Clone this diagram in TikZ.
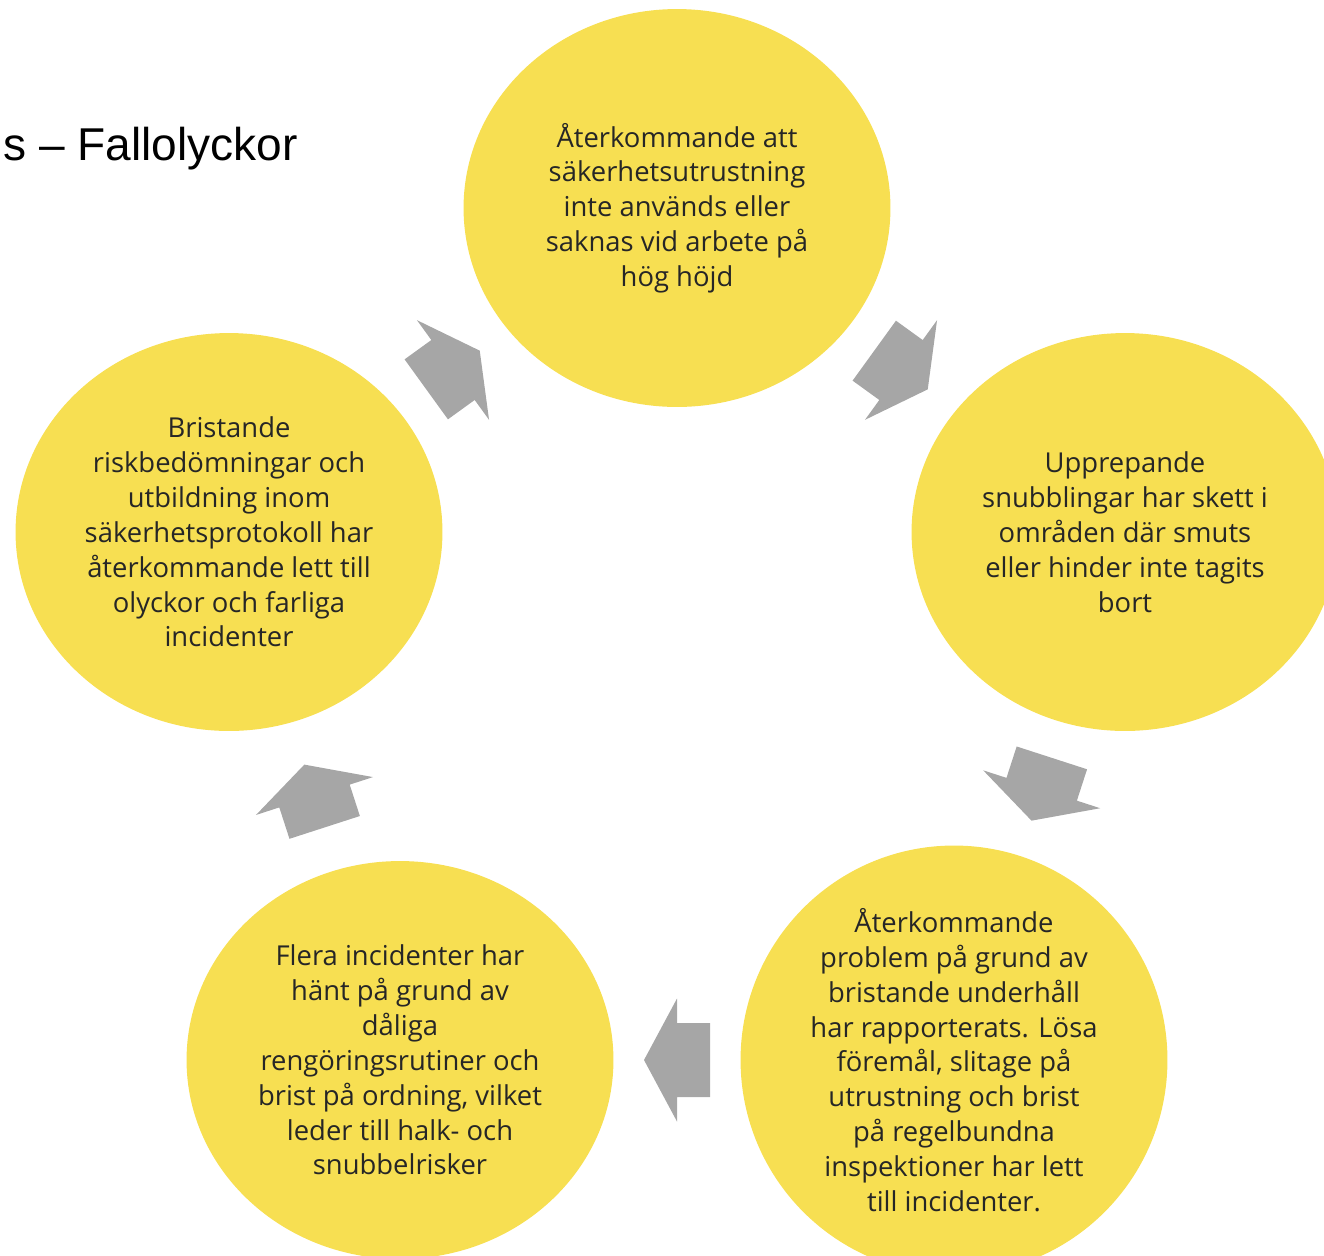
\documentclass[tikz,border=0pt]{standalone}
\usepackage{fontspec}
\usetikzlibrary{shapes.geometric}
\setmainfont{Open Sans}
\newfontfamily\titlefont{Liberation Sans}
\definecolor{cycleyellow}{HTML}{F7DF52}
\definecolor{arrowgray}{HTML}{A6A6A6}
\definecolor{textdark}{HTML}{262626}
\tikzset{
  stepcircle/.style={ellipse, fill=cycleyellow, minimum width=8.54cm, minimum height=7.96cm,
    inner sep=0pt, align=center, text=textdark, font=\fontsize{15.6}{19.84}\selectfont},
  cyclearrow/.pic={\fill[arrowgray] (33,0) -- (0,61.5) -- (0,37) -- (-33,37)
    -- (-33,-37) -- (0,-37) -- (0,-61.5) -- cycle;}
}
\begin{document}
\begin{tikzpicture}[x=0.02cm, y=-0.02cm]
  \useasboundingbox (0,0) rectangle (1324,1255);
  \clip (0,0) rectangle (1324,1255);

  % Title
  \node[anchor=base east, inner sep=0pt, font=\titlefont\fontsize{26.2}{30}\selectfont] at (298,160) (title) {s – Fallolyckor};

  % Nodes
  \node[stepcircle] at (677,208) (top) {Återkommande att\\säkerhetsutrustning\\inte används eller\\saknas vid arbete på\\hög höjd};
  \node[stepcircle] at (1125,532) (right) {Upprepande\\snubblingar har skett i\\områden där smuts\\eller hinder inte tagits\\bort};
  \node[stepcircle] at (954,1060) (lowright) {Återkommande\\problem på grund av\\bristande underhåll\\har rapporterats. Lösa\\föremål, slitage på\\utrustning och brist\\på regelbundna\\inspektioner har lett\\till incidenter.};
  \node[stepcircle] at (400,1060) (lowleft) {Flera incidenter har\\hänt på grund av\\dåliga\\rengöringsrutiner och\\brist på ordning, vilket\\leder till halk- och\\snubbelrisker};
  \node[stepcircle] at (229,532) (left) {Bristande\\riskbedömningar och\\utbildning inom\\säkerhetsprotokoll har\\återkommande lett till\\olyckor och farliga\\incidenter};

  % Arrows
  \path (top) -- pic[pos=0.5, sloped, allow upside down] {cyclearrow} (right);
  \path (right) -- pic[pos=0.5, sloped, allow upside down] {cyclearrow} (lowright);
  \path (lowright) -- pic[pos=0.5, sloped, allow upside down] {cyclearrow} (lowleft);
  \path (lowleft) -- pic[pos=0.5, sloped, allow upside down] {cyclearrow} (left);
  \path (left) -- pic[pos=0.5, sloped, allow upside down] {cyclearrow} (top);
\end{tikzpicture}
\end{document}
